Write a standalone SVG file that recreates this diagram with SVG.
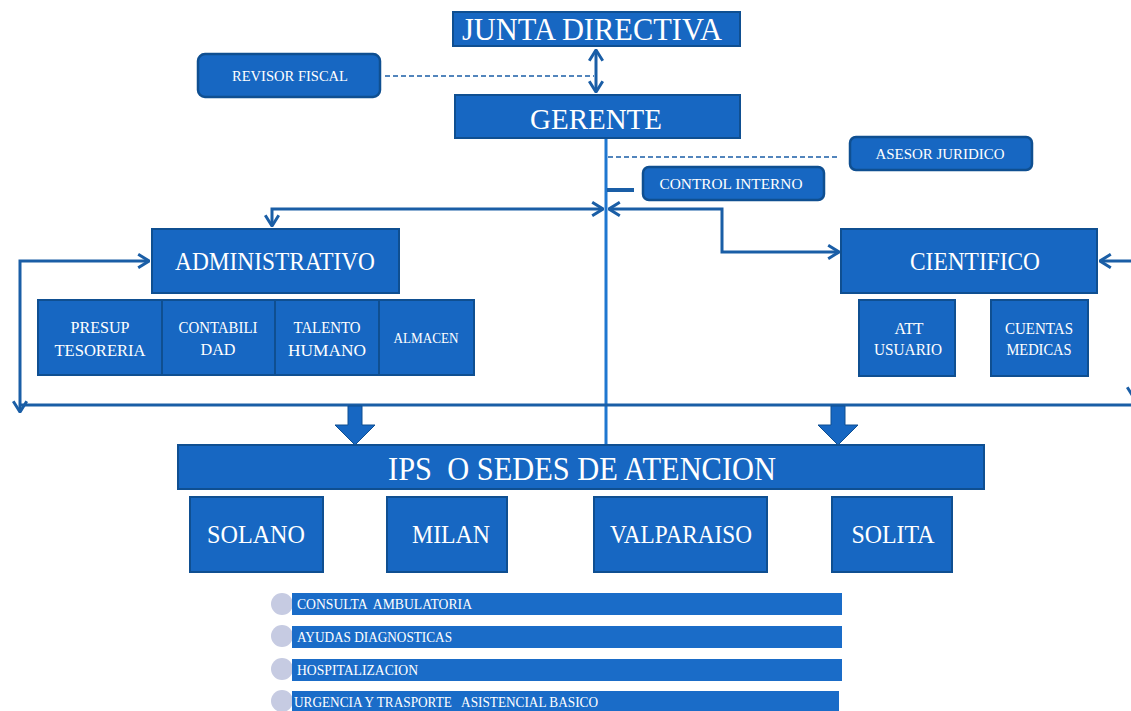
<svg xmlns="http://www.w3.org/2000/svg" width="1131" height="711" viewBox="0 0 1131 711">
<style>
.box{fill:#1767c2;stroke:#0f4f91;stroke-width:2}
.rbox{fill:#1767c2;stroke:#0f4f91;stroke-width:2.5}
.t{fill:#ffffff;font-family:"Liberation Serif",serif;text-anchor:middle;white-space:pre}
.tl{fill:#ffffff;font-family:"Liberation Serif",serif;text-anchor:start;white-space:pre}
.ln{fill:none;stroke:#1a5ea6;stroke-width:3}
.dash{fill:none;stroke:#1a5ea6;stroke-width:1.5;stroke-dasharray:5,3}
.bar{fill:#1a6cc8}
.dot{fill:#c6cbe2}
.blk{fill:#1767c2;stroke:#0f4f91;stroke-width:1}
</style>
<defs>
<marker id="ah" viewBox="0 0 10 12" refX="9" refY="6" markerWidth="4.5" markerHeight="5.4" orient="auto-start-reverse" markerUnits="strokeWidth">
<path d="M1,1 L9,6 L1,11" fill="none" stroke="#1a5ea6" stroke-width="2.2"/>
</marker>
</defs>

<g id="connectors">
<line class="dash" x1="385" y1="76" x2="594" y2="76"/>
<line class="ln" x1="596" y1="50" x2="596" y2="92" marker-start="url(#ah)" marker-end="url(#ah)"/>
<line x1="606" y1="138" x2="606" y2="446" stroke="#1f77d0" stroke-width="3"/>
<line class="dash" x1="608" y1="157" x2="840" y2="157"/>
<line x1="607" y1="190" x2="634" y2="190" stroke="#1a5ea6" stroke-width="4"/>
<polyline class="ln" points="603,209 272,209 272,226" marker-start="url(#ah)" marker-end="url(#ah)"/>
<polyline class="ln" points="609,209 722,209 722,252 839,252" marker-start="url(#ah)" marker-end="url(#ah)"/>
<polyline class="ln" points="149,261 20,261 20,412" marker-start="url(#ah)" marker-end="url(#ah)"/>
<line class="ln" x1="20" y1="405" x2="1131" y2="405"/>
<polyline class="ln" points="1100,261 1134,261 1134,398" marker-start="url(#ah)" marker-end="url(#ah)"/>
<polygon class="blk" points="348,406 362,406 362,425 375,425 355,445 335,425 348,425"/>
<polygon class="blk" points="831,406 845,406 845,425 858,425 838,445 818,425 831,425"/>
</g>

<g id="junta"><rect class="box" x="453" y="12" width="287" height="34"/><text class="t" x="592" y="40" font-size="31" textLength="260" lengthAdjust="spacingAndGlyphs">JUNTA DIRECTIVA</text></g>
<g id="revisor"><rect class="rbox" x="198" y="54" width="182" height="43" rx="7"/><text class="t" x="290" y="81" font-size="15" textLength="116" lengthAdjust="spacingAndGlyphs">REVISOR FISCAL</text></g>
<g id="gerente"><rect class="box" x="455" y="95" width="285" height="43"/><text class="t" x="596" y="129" font-size="30" textLength="132" lengthAdjust="spacingAndGlyphs">GERENTE</text></g>
<g id="asesor"><rect class="rbox" x="850" y="137" width="182" height="33" rx="6"/><text class="t" x="940" y="159" font-size="15" textLength="129" lengthAdjust="spacingAndGlyphs">ASESOR JURIDICO</text></g>
<g id="control"><rect class="rbox" x="643" y="167" width="181" height="33" rx="6"/><text class="t" x="731" y="189" font-size="15" textLength="143" lengthAdjust="spacingAndGlyphs">CONTROL INTERNO</text></g>

<g id="administrativo"><rect class="box" x="152" y="229" width="247" height="64"/><text class="t" x="275" y="270" font-size="26" textLength="200" lengthAdjust="spacingAndGlyphs">ADMINISTRATIVO</text></g>
<g id="presup"><rect class="box" x="38" y="300" width="124" height="75"/><text class="t" x="100" y="333" font-size="16" textLength="59" lengthAdjust="spacingAndGlyphs">PRESUP</text><text class="t" x="100" y="356" font-size="16" textLength="91" lengthAdjust="spacingAndGlyphs">TESORERIA</text></g>
<g id="contabilidad"><rect class="box" x="162" y="300" width="113" height="75"/><text class="t" x="218" y="333" font-size="16" textLength="79" lengthAdjust="spacingAndGlyphs">CONTABILI</text><text class="t" x="218" y="355" font-size="16" textLength="35" lengthAdjust="spacingAndGlyphs">DAD</text></g>
<g id="talento"><rect class="box" x="275" y="300" width="104" height="75"/><text class="t" x="327" y="333" font-size="16" textLength="67" lengthAdjust="spacingAndGlyphs">TALENTO</text><text class="t" x="327" y="356" font-size="16" textLength="78" lengthAdjust="spacingAndGlyphs">HUMANO</text></g>
<g id="almacen"><rect class="box" x="379" y="300" width="95" height="75"/><text class="t" x="426" y="343" font-size="14" textLength="65" lengthAdjust="spacingAndGlyphs">ALMACEN</text></g>

<g id="cientifico"><rect class="box" x="841" y="229" width="256" height="64"/><text class="t" x="975" y="270" font-size="26" textLength="130" lengthAdjust="spacingAndGlyphs">CIENTIFICO</text></g>
<g id="att"><rect class="box" x="859" y="300" width="96" height="76"/><text class="t" x="909" y="334" font-size="16" textLength="29" lengthAdjust="spacingAndGlyphs">ATT</text><text class="t" x="908" y="355" font-size="16" textLength="68" lengthAdjust="spacingAndGlyphs">USUARIO</text></g>
<g id="cuentas"><rect class="box" x="991" y="300" width="97" height="76"/><text class="t" x="1039" y="334" font-size="16" textLength="68" lengthAdjust="spacingAndGlyphs">CUENTAS</text><text class="t" x="1039" y="355" font-size="16" textLength="65" lengthAdjust="spacingAndGlyphs">MEDICAS</text></g>

<g id="ips"><rect class="box" x="178" y="445" width="806" height="44"/><text class="t" x="582" y="480" font-size="34" textLength="388" lengthAdjust="spacingAndGlyphs">IPS  O SEDES DE ATENCION</text></g>
<g id="solano"><rect class="box" x="190" y="497" width="133" height="75"/><text class="t" x="256" y="543" font-size="25" textLength="98" lengthAdjust="spacingAndGlyphs">SOLANO</text></g>
<g id="milan"><rect class="box" x="387" y="497" width="120" height="75"/><text class="t" x="451" y="543" font-size="25" textLength="78" lengthAdjust="spacingAndGlyphs">MILAN</text></g>
<g id="valparaiso"><rect class="box" x="594" y="497" width="173" height="75"/><text class="t" x="681" y="543" font-size="25" textLength="142" lengthAdjust="spacingAndGlyphs">VALPARAISO</text></g>
<g id="solita"><rect class="box" x="832" y="497" width="120" height="75"/><text class="t" x="893" y="543" font-size="25" textLength="83" lengthAdjust="spacingAndGlyphs">SOLITA</text></g>

<g id="servicio1"><circle class="dot" cx="282" cy="604" r="11"/><rect class="bar" x="292" y="593" width="550" height="22"/><text class="tl" x="297" y="609" font-size="14" textLength="175" lengthAdjust="spacingAndGlyphs">CONSULTA  AMBULATORIA</text></g>
<g id="servicio2"><circle class="dot" cx="282" cy="636" r="11"/><rect class="bar" x="292" y="626" width="550" height="22"/><text class="tl" x="297" y="642" font-size="14" textLength="155" lengthAdjust="spacingAndGlyphs">AYUDAS DIAGNOSTICAS</text></g>
<g id="servicio3"><circle class="dot" cx="282" cy="669" r="11"/><rect class="bar" x="292" y="659" width="550" height="22"/><text class="tl" x="297" y="675" font-size="14" textLength="121" lengthAdjust="spacingAndGlyphs">HOSPITALIZACION</text></g>
<g id="servicio4"><circle class="dot" cx="282" cy="701" r="11"/><rect class="bar" x="292" y="691" width="547" height="22"/><text class="tl" x="294" y="707" font-size="14" textLength="304" lengthAdjust="spacingAndGlyphs">URGENCIA Y TRASPORTE   ASISTENCIAL BASICO</text></g>
</svg>
